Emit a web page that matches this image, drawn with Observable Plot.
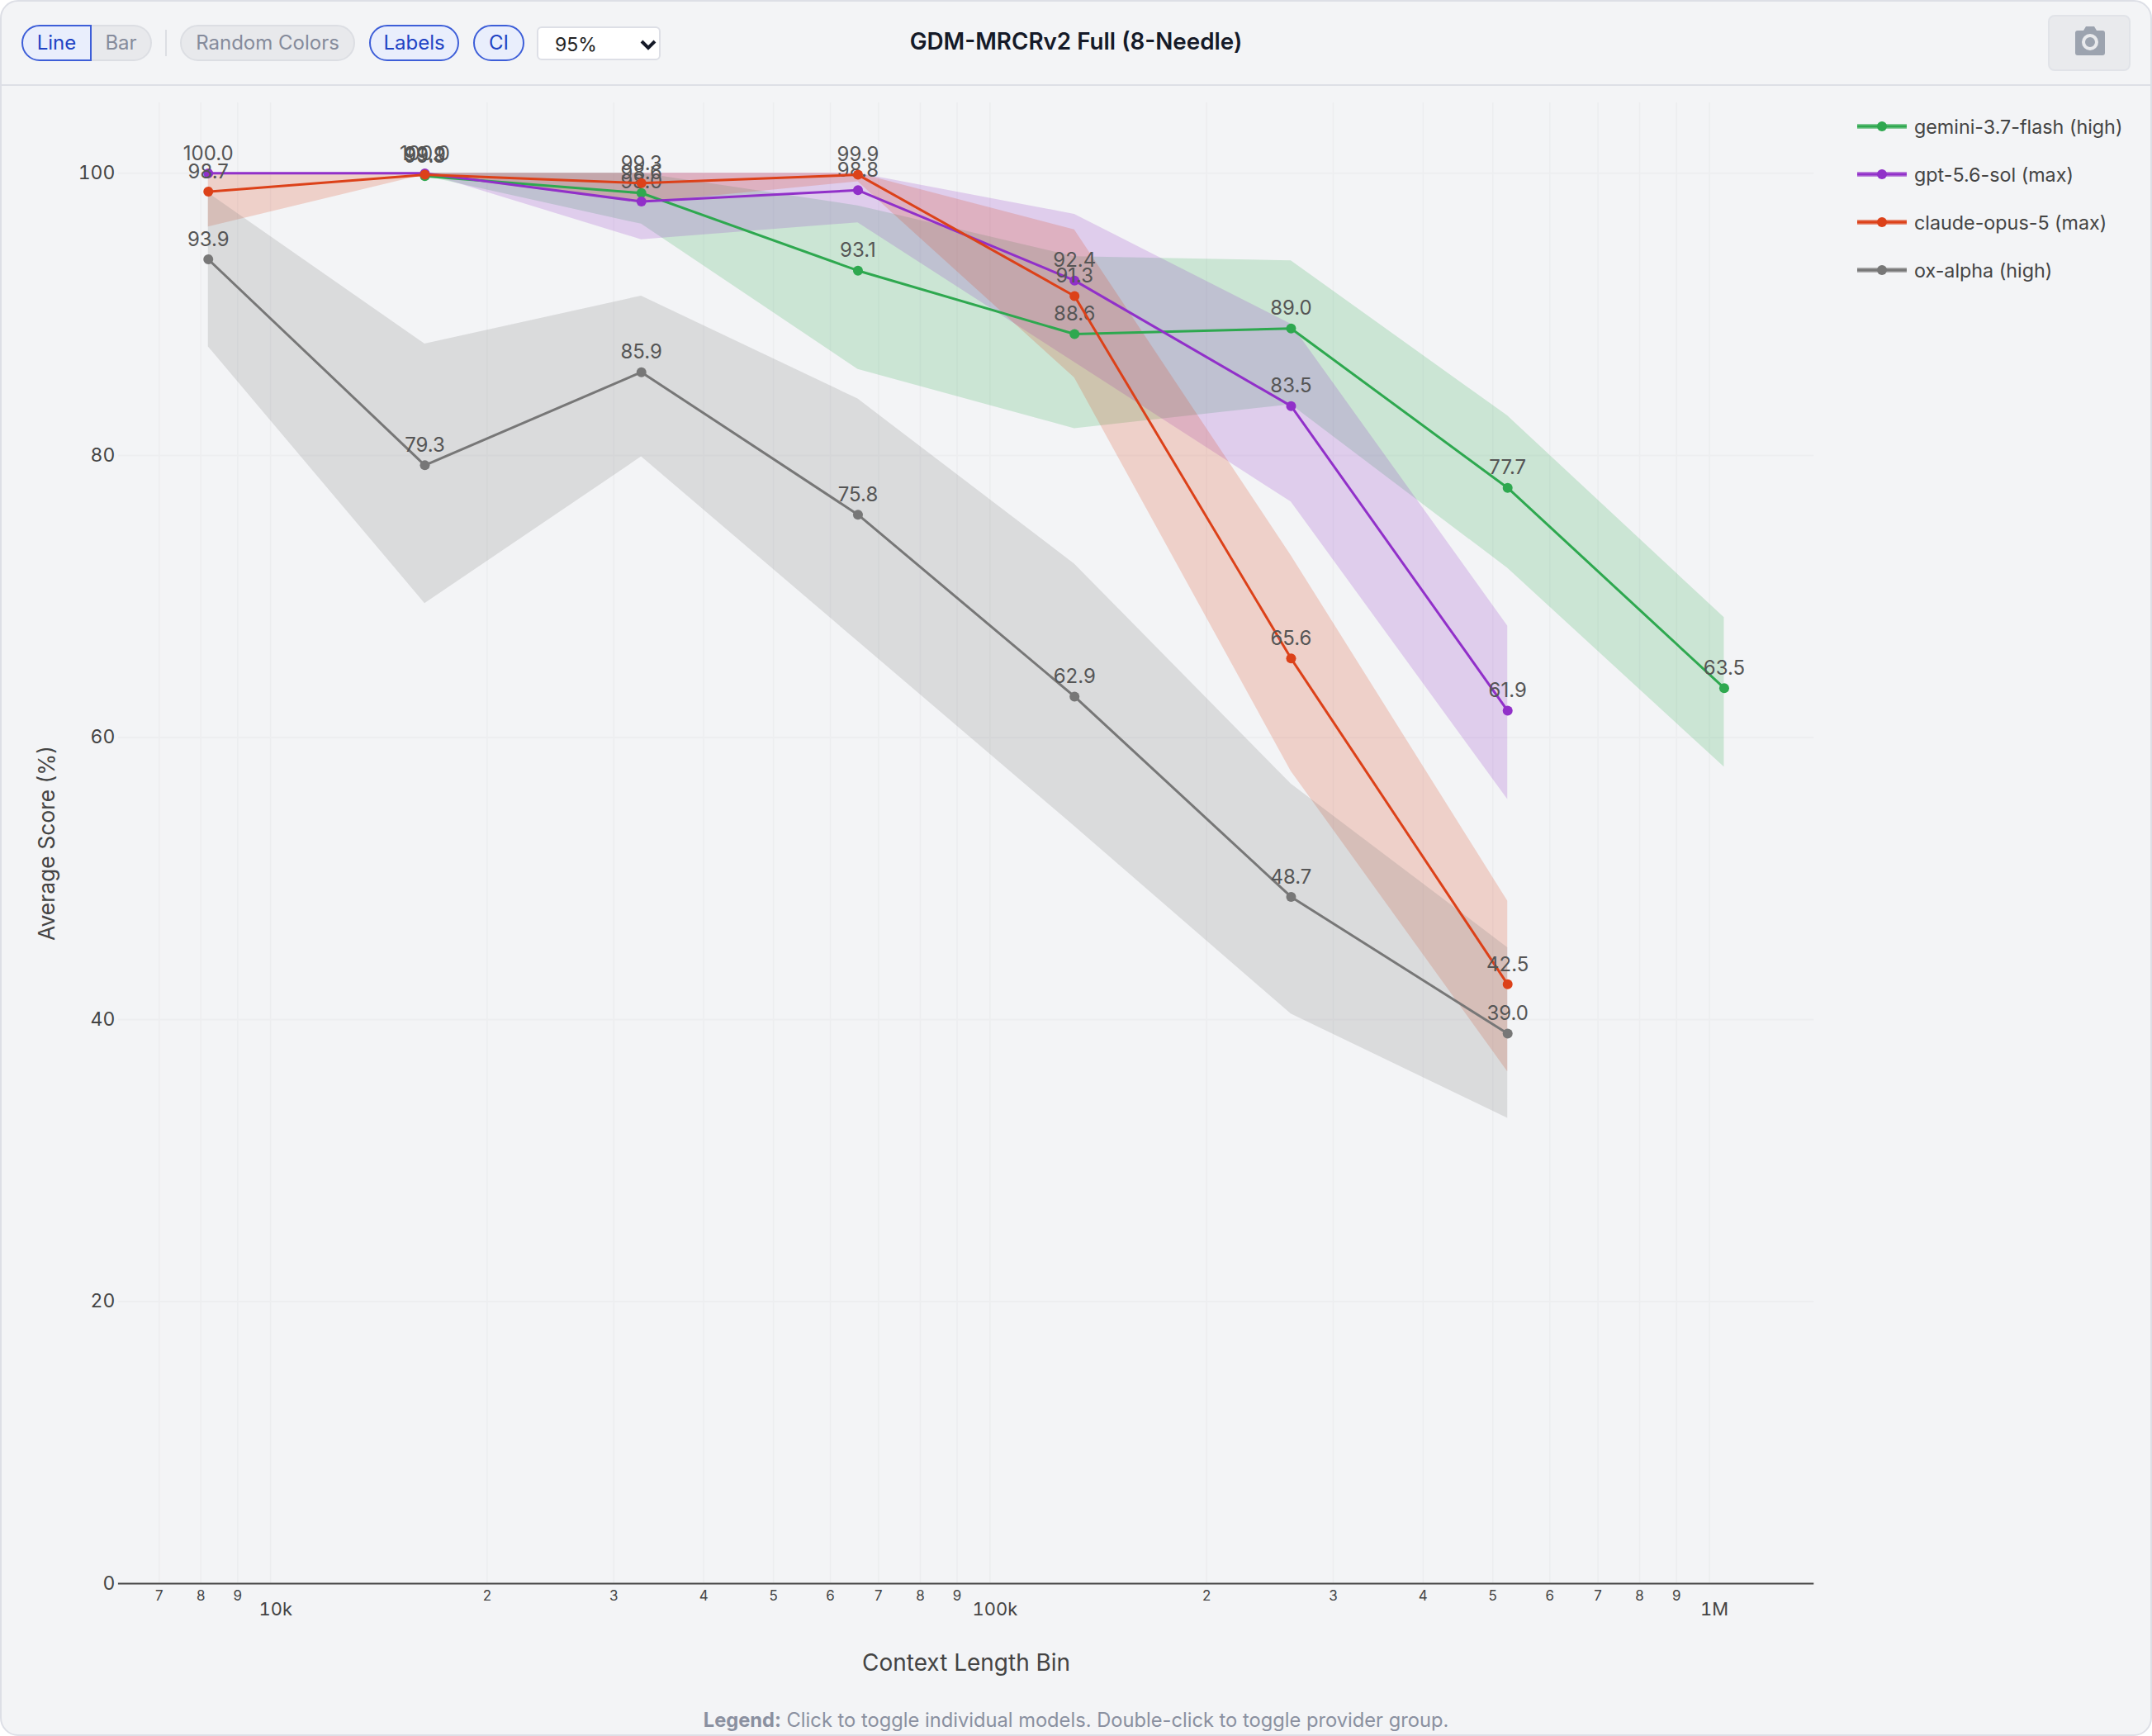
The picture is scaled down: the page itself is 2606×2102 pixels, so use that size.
<!DOCTYPE html>
<html>
<head>
<meta charset="utf-8">
<script src="https://cdn.jsdelivr.net/npm/d3@7"></script>
<script src="https://cdn.jsdelivr.net/npm/@observablehq/plot@0.6"></script>
<style>
  html, body { margin: 0; padding: 0; background: #ffffff; }
  body { font-family: Inter, "Noto Sans", sans-serif; }
  #card { position: relative; width: 2606px; height: 2102px; box-sizing: border-box; background: #f3f4f6;
          border: 2px solid #dddfe6; border-radius: 22px; overflow: hidden; }
  #bar { position: absolute; left: -2px; top: -2px; width: 2606px; height: 104px; box-sizing: border-box; border-bottom: 2px solid #dddfe6; }
  .b { position: absolute; box-sizing: border-box; top: 30px; height: 44px; line-height: 40px; text-align: center; font-size: 24px;
       border: 2px solid #dcdee3; background: #e8e9ec; color: #858b9b; border-radius: 22px; }
  .on { border-color: #3d5ed8; background: #e9eefc; color: #2143c4; }
  #sel { position: absolute; left: 650px; top: 32px; width: 150px; height: 41px; font: 23px Inter; border: 2px solid #dddfe6; border-radius: 6px; color: #222; padding: 3px 0 0 20px; box-sizing: border-box; appearance: none; -webkit-appearance: none;
         background: #fff url("data:image/svg+xml,%3Csvg xmlns='http://www.w3.org/2000/svg' width='20' height='14'%3E%3Cpath d='M2 3l8 8 8-8' fill='none' stroke='%23151a28' stroke-width='4'/%3E%3C/svg%3E") no-repeat 123px 13px; }
  #title { position: absolute; left: 0; width: 2606px; top: 33px; text-align: center; font-size: 27.8px; font-weight: 600; color: #151a28; }
  #cam { position: absolute; left: 2480px; top: 18px; width: 100px; height: 68px; box-sizing: border-box; border: 2px solid #e1e3e8; background: #e9eaed; border-radius: 8px; }
  #plotwrap { position: absolute; left: -2px; top: 102px; }
  #legend { position: absolute; left: 2247px; top: 122px; }
  .li { height: 58px; display: flex; align-items: center; font-size: 23.3px; color: #444; white-space: nowrap; }
  .li svg { margin-right: 9px; }
  #foot { position: absolute; left: -2px; width: 2606px; top: 2066px; text-align: center; font-size: 23.7px; color: #8a90a0; }
</style>
</head>
<body>
<div id="card">
  <div id="bar">
    <div class="b on" style="left:26px;width:85px;border-radius:22px 0 0 22px">Line</div>
    <div class="b" style="left:111px;width:73px;border-radius:0 22px 22px 0;border-left:0">Bar</div>
    <div style="position:absolute;left:200px;top:36px;width:2px;height:32px;background:#dcdee3"></div>
    <div class="b" style="left:218px;width:212px">Random Colors</div>
    <div class="b on" style="left:447px;width:109px">Labels</div>
    <div class="b on" style="left:573px;width:62px">CI</div>
    <select id="sel"><option>95%</option></select>
    <div id="title">GDM-MRCRv2 Full (8-Needle)</div>
    <div id="cam"><svg width="96" height="64" viewBox="0 0 96 64"><path fill="#9ca3af" d="M34 17h7l3-5h10l3 5h7a3 3 0 0 1 3 3v24a3 3 0 0 1-3 3H34a3 3 0 0 1-3-3V20a3 3 0 0 1 3-3z"/><circle cx="49" cy="31" r="8" fill="none" stroke="#e9eaed" stroke-width="4"/></svg></div>
  </div>
  <div id="plotwrap"></div>
  <div id="legend"></div>
  <div id="foot"><b style="font-weight:700">Legend:</b> Click to toggle individual models. Double-click to toggle provider group.</div>
</div>
<script>
const bins = [8192, 16384, 32768, 65536, 131072, 262144, 524288, 1048576];

const seriesNames = ["gemini-3.7-flash (high)", "gpt-5.6-sol (max)", "claude-opus-5 (max)", "ox-alpha (high)"];
const seriesColors = ["#2ea84f", "#9130c9", "#dc4119", "#777777"];

const geminiBins  = bins.slice(1);
const geminiScore = [99.8, 98.6, 93.1, 88.6, 89.0, 77.7, 63.5];
const geminiLow   = [99.8, 96.4, 86.1, 81.9, 83.6, 72.0, 57.9];
const geminiHigh  = [100, 100, 97.7, 94.1, 93.8, 82.8, 68.5];

const gptBins  = bins.slice(0, 7);
const gptScore = [100.0, 100.0, 98.0, 98.8, 92.4, 83.5, 61.9];
const gptLow   = [100, 100, 95.3, 96.5, 86.6, 76.7, 55.6];
const gptHigh  = [100, 100, 100, 100, 97.1, 89.3, 67.9];

const claudeBins  = bins.slice(0, 7);
const claudeScore = [98.7, 99.9, 99.3, 99.9, 91.3, 65.6, 42.5];
const claudeLow   = [96.2, 99.9, 97.9, 99.4, 85.5, 57.6, 36.3];
const claudeHigh  = [100, 100, 100, 100, 96.0, 72.9, 48.4];

const oxBins  = bins.slice(0, 7);
const oxScore = [93.9, 79.3, 85.9, 75.8, 62.9, 48.7, 39.0];
const oxLow   = [87.7, 69.5, 79.9, 66.8, 53.7, 40.4, 33.0];
const oxHigh  = [98.6, 87.9, 91.3, 84.0, 72.3, 56.7, 45.1];

const minorTicks = [7000, 8000, 9000, 20000, 30000, 40000, 50000, 60000, 70000, 80000, 90000,
                    200000, 300000, 400000, 500000, 600000, 700000, 800000, 900000];
const majorTicks = [10000, 100000, 1000000];
const majorLabels = ["10k", "100k", "1M"];
const yTicks = [0, 20, 40, 60, 80, 100];

const table = (name, xs, score, low, high) =>
  xs.map((x, i) => ({name, x, score: score[i], low: low[i], high: high[i]}));

const groups = [
  table(seriesNames[0], geminiBins, geminiScore, geminiLow, geminiHigh),
  table(seriesNames[1], gptBins, gptScore, gptLow, gptHigh),
  table(seriesNames[2], claudeBins, claudeScore, claudeLow, claudeHigh),
  table(seriesNames[3], oxBins, oxScore, oxLow, oxHigh)
];

const seriesMarks = [];
groups.forEach((g, i) => seriesMarks.push(
  Plot.areaY(g, {x: "x", y1: "low", y2: "high", fill: seriesColors[i], fillOpacity: 0.2})
));
groups.forEach((g, i) => seriesMarks.push(
  Plot.line(g, {x: "x", y: "score", stroke: seriesColors[i], strokeWidth: 3}),
  Plot.dot(g, {x: "x", y: "score", fill: seriesColors[i], r: 6}),
  Plot.text(g, {x: "x", y: "score", text: d => d.score.toFixed(1), dy: -24, fill: "#555555", fontSize: 24})
));

const chart = Plot.plot({
  width: 2606,
  height: 1937.5,
  marginLeft: 143,
  marginRight: 408,
  marginTop: 20,
  marginBottom: 123,
  style: {background: "transparent", fontFamily: "Inter, sans-serif", overflow: "visible"},
  x: {type: "log", domain: [6144, 1398101]},
  y: {domain: [0, 105]},
  marks: [
    Plot.gridX([...minorTicks, ...majorTicks], {stroke: "#ecedef", strokeOpacity: 1, strokeWidth: 1.5}),
    Plot.gridY(yTicks, {stroke: "#edeef0", strokeOpacity: 1, strokeWidth: 2}),
    ...seriesMarks,
    Plot.ruleY([0], {stroke: "#444444", strokeWidth: 2}),
    Plot.axisY({ticks: yTicks, tickSize: 0, tickPadding: 4, label: null, fontSize: 23, color: "#444444"}),
    Plot.text(minorTicks, {x: d => d, text: d => String(d)[0], frameAnchor: "bottom", lineAnchor: "middle", dy: 15, fontSize: 17, fill: "#444444"}),
    Plot.axisX({ticks: majorTicks, tickSize: 0, tickPadding: 23, label: null, fontSize: 22, dx: 6, color: "#444444",
                tickFormat: d => majorLabels[majorTicks.indexOf(d)]}),
    Plot.text(["Average Score (%)"], {frameAnchor: "left", textAnchor: "middle", rotate: -90, dx: -86, fontSize: 26.5, fill: "#444444"}),
    Plot.text(["Context Length Bin"], {frameAnchor: "bottom", dy: 105, fontSize: 28, fill: "#444444"})
  ]
});
document.getElementById("plotwrap").appendChild(chart);

const legend = document.getElementById("legend");
seriesNames.forEach((name, i) => {
  const row = document.createElement("div");
  row.className = "li";
  row.innerHTML = `<svg width="60" height="16"><rect x="0" y="5" width="60" height="6" fill="${seriesColors[i]}" fill-opacity="0.55"/><rect x="0" y="6.5" width="60" height="3" fill="${seriesColors[i]}"/><circle cx="30" cy="8" r="6" fill="${seriesColors[i]}"/></svg><span>${name}</span>`;
  legend.appendChild(row);
});
</script>
</body>
</html>
